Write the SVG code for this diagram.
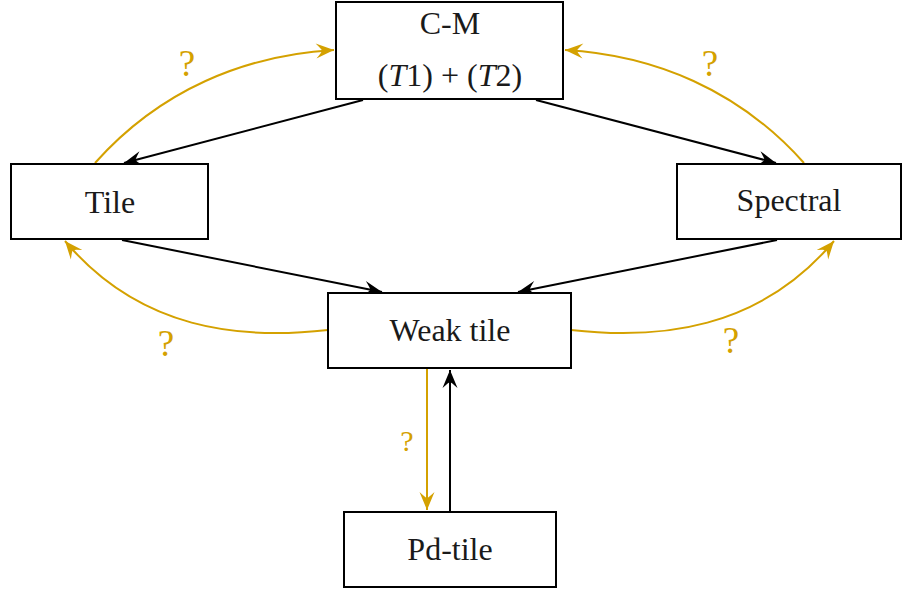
<svg xmlns="http://www.w3.org/2000/svg" width="902" height="590" viewBox="0 0 902 590">
<style>
.box{fill:#fff;stroke:#000;stroke-width:2}
.t{font-family:"Liberation Serif","DejaVu Serif",serif;font-size:32px;fill:#1a1a1a;text-anchor:middle}
.q{font-family:"Liberation Serif","DejaVu Serif",serif;fill:#d4a100;text-anchor:middle}
.bk{fill:none;stroke:#000;stroke-width:2}
.or{fill:none;stroke:#d4a100;stroke-width:2}
</style>
<defs>
<marker id="ab" viewBox="-20 -10 22 20" refX="0" refY="0" markerWidth="22" markerHeight="20" markerUnits="userSpaceOnUse" orient="auto">
<path d="M0,0 L-18,-7.5 Q-12,-1 -12,0 Q-12,1 -18,7.5 Z" fill="#000"/>
</marker>
<marker id="ao" viewBox="-20 -10 22 20" refX="0" refY="0" markerWidth="22" markerHeight="20" markerUnits="userSpaceOnUse" orient="auto">
<path d="M0,0 L-18,-7.5 Q-12,-1 -12,0 Q-12,1 -18,7.5 Z" fill="#d4a100"/>
</marker>
</defs>
<g id="connectors">
<line class="bk" x1="363" y1="100" x2="124" y2="163" marker-end="url(#ab)"/>
<line class="bk" x1="536" y1="100" x2="776" y2="163" marker-end="url(#ab)"/>
<line class="bk" x1="122" y1="240" x2="382" y2="292" marker-end="url(#ab)"/>
<line class="bk" x1="777" y1="240" x2="518" y2="292" marker-end="url(#ab)"/>
<line class="bk" x1="450" y1="511" x2="450" y2="370" marker-end="url(#ab)"/>
<line class="or" x1="427" y1="369" x2="427" y2="510" marker-end="url(#ao)"/>
<path class="or" d="M95,163 C160,90 245,55 334,50" marker-end="url(#ao)"/>
<path class="or" d="M804,163 C739,90 654,55 565,50" marker-end="url(#ao)"/>
<path class="or" d="M328,330 C240,340 140,330 65,241" marker-end="url(#ao)"/>
<path class="or" d="M571,330 C659,340 759,330 834,241" marker-end="url(#ao)"/>
<text class="q" x="187" y="76" font-size="37">?</text>
<text class="q" x="710" y="76" font-size="37">?</text>
<text class="q" x="166" y="356" font-size="37">?</text>
<text class="q" x="731" y="353" font-size="37">?</text>
<text class="q" x="407" y="451" font-size="30">?</text>
</g>
<g id="cm">
<rect class="box" x="336" y="2" width="227" height="97"/>
<text class="t" x="450" y="34">C-M</text>
<text class="t" x="450" y="86">(<tspan font-style="italic">T</tspan>1) + (<tspan font-style="italic">T</tspan>2)</text>
</g>
<g id="tile">
<rect class="box" x="11" y="164" width="197" height="75"/>
<text class="t" x="110" y="213">Tile</text>
</g>
<g id="spectral">
<rect class="box" x="677" y="164" width="224" height="75"/>
<text class="t" x="789" y="211">Spectral</text>
</g>
<g id="weak">
<rect class="box" x="328" y="293" width="243" height="75"/>
<text class="t" x="450" y="341">Weak tile</text>
</g>
<g id="pd">
<rect class="box" x="344" y="512" width="212" height="75"/>
<text class="t" x="450" y="560">Pd-tile</text>
</g>
</svg>
